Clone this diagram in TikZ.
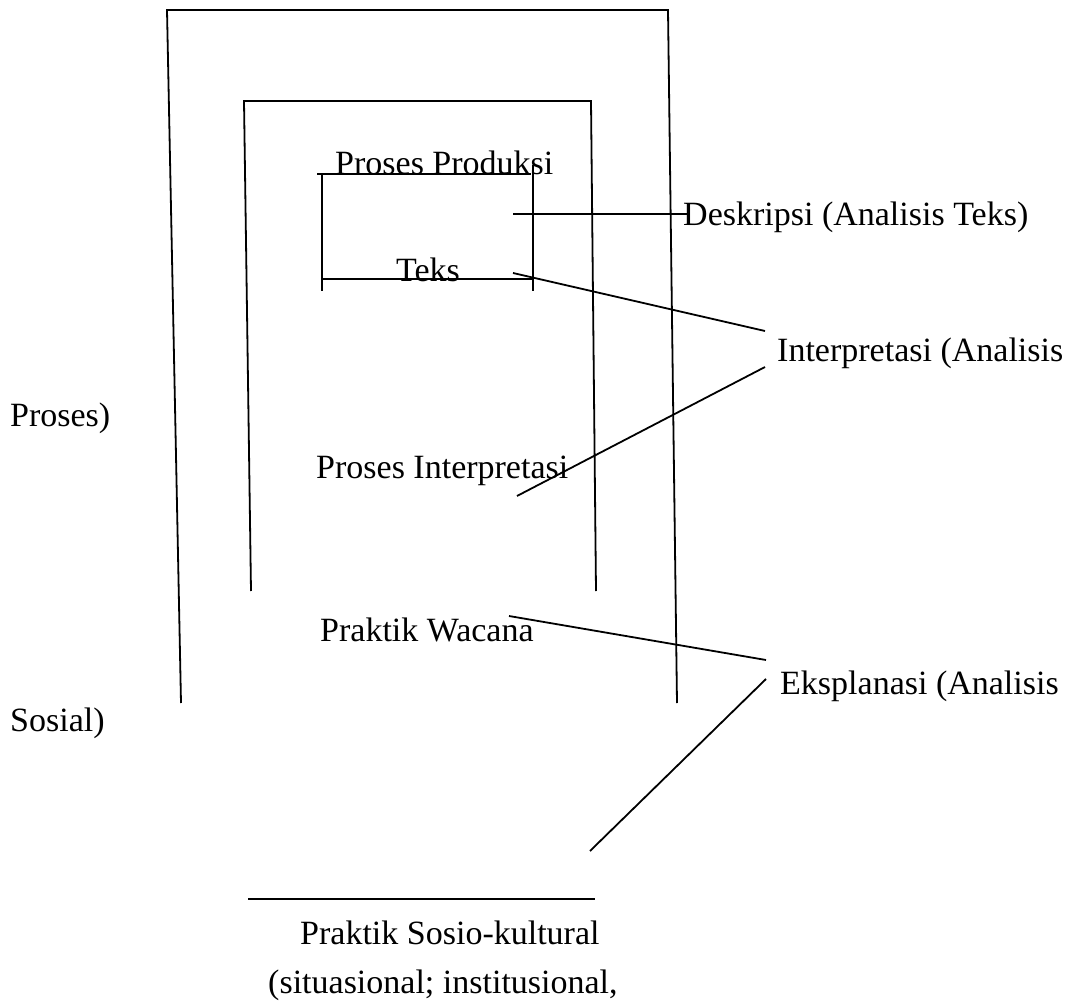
\documentclass[tikz,border=0pt]{standalone}
\usepackage{fontspec}
\setmainfont{Liberation Serif}
\begin{document}
\begin{tikzpicture}[x=1pt,y=-1pt,
  ln/.style={line width=1.8pt, line cap=butt},
  lbl/.style={anchor=base west, inner sep=0pt, font=\fontsize{34}{40}\selectfont}]
\useasboundingbox[fill=white] (0,0) rectangle (1074,1003);
% outer frame
\coordinate (o1) at (181,703);
\coordinate (o2) at (167,10);
\coordinate (o3) at (668,10);
\coordinate (o4) at (677,703);
\draw[ln] (o1) -- (o2) -- (o3) -- (o4);
% inner frame
\coordinate (i1) at (251,591);
\coordinate (i2) at (244,101);
\coordinate (i3) at (591,101);
\coordinate (i4) at (596,591);
\draw[ln] (i1) -- (i2) -- (i3) -- (i4);
% small box
\coordinate (b1) at (317,174);
\coordinate (b2) at (531,174);
\coordinate (b3) at (322,174);
\coordinate (b4) at (322,291);
\coordinate (b5) at (533,165);
\coordinate (b6) at (533,291);
\coordinate (b7) at (322,279);
\coordinate (b8) at (533,279);
\draw[ln] (b1) -- (b2);
\draw[ln] (b3) -- (b4);
\draw[ln] (b5) -- (b6);
\draw[ln] (b7) -- (b8);
% texts
\node[lbl] (pp) at (335,175) {Proses Produksi};
\node[lbl] (des) at (683,226) {Deskripsi (Analisis Teks)};
\node[lbl] (teks) at (396,281) {Teks};
\node[lbl] (int) at (777,361) {Interpretasi (Analisis};
\node[lbl] (pros) at (10,426) {Proses)};
\node[lbl] (pi) at (316,478) {Proses Interpretasi};
\node[lbl] (pw) at (320,641) {Praktik Wacana};
\node[lbl] (eks) at (780,694) {Eksplanasi (Analisis};
\node[lbl] (sos) at (10,731) {Sosial)};
\node[lbl] (psk) at (300,944) {Praktik Sosio-kultural};
\node[lbl] (sit) at (268,993) {(situasional; institusional,};
% connectors
\coordinate (d1) at (513,214);
\coordinate (d2) at (690,214);
\draw[ln] (d1) -- (d2);
\coordinate (t1) at (513,273);
\coordinate (t2) at (765,331);
\draw[ln] (t1) -- (t2);
\coordinate (p1) at (517,496);
\coordinate (p2) at (765,367);
\draw[ln] (p1) -- (p2);
\coordinate (w1) at (509,616);
\coordinate (w2) at (766,660);
\draw[ln] (w1) -- (w2);
\coordinate (e1) at (590,851);
\coordinate (e2) at (766,679);
\draw[ln] (e1) -- (e2);
\coordinate (s1) at (248,899);
\coordinate (s2) at (595,899);
\draw[ln] (s1) -- (s2);
\end{tikzpicture}
\end{document}
